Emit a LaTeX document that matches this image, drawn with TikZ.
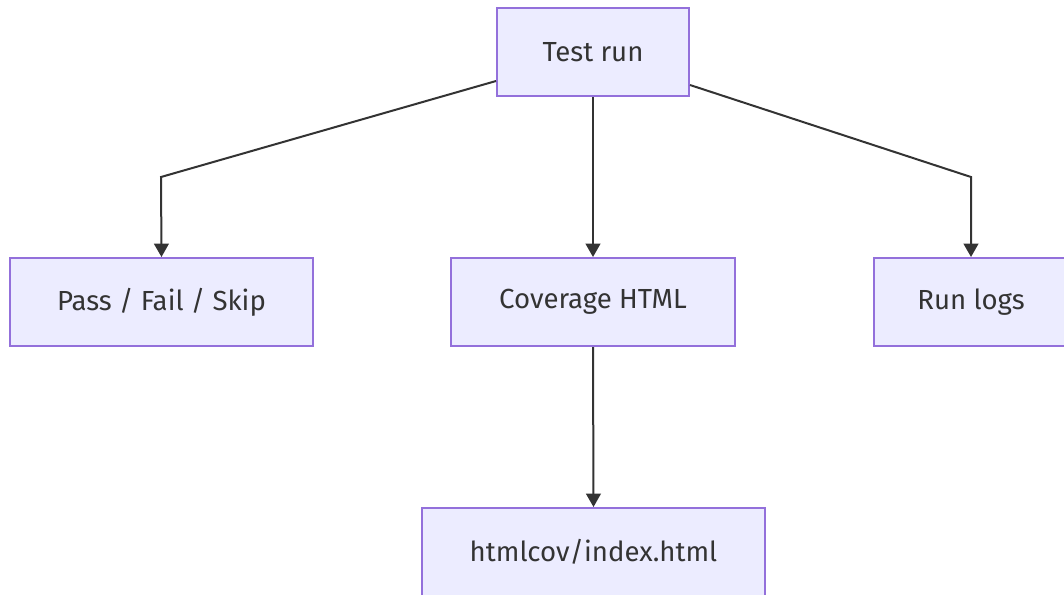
\documentclass[tikz,border=0pt]{standalone}
\usepackage{fontspec}
\setmainfont{Fira Sans}
\usetikzlibrary{arrows.meta,calc}
\definecolor{nodefill}{HTML}{ECECFF}
\definecolor{nodeline}{HTML}{9370DB}
\definecolor{ink}{HTML}{333333}
\tikzset{
  box/.style={draw=nodeline, fill=nodefill, line width=1.5pt, text=ink, font=\fontsize{20.7}{24}\selectfont, inner sep=0pt, anchor=center},
  conn/.style={draw=ink, line width=1.5pt, -{Triangle[length=10pt,width=11pt]}}
}
\begin{document}
\begin{tikzpicture}[x=0.75pt,y=-0.75pt]
\useasboundingbox (0,0) rectangle (1064,594);
\clip (0,0) rectangle (1064,594);
\node[box, minimum width=192*0.75pt, minimum height=88*0.75pt] (tr) at (593,52) {Test run};
\node[box, minimum width=303*0.75pt, minimum height=88*0.75pt] (pf) at (161.5,302) {Pass / Fail / Skip};
\node[box, minimum width=284*0.75pt, minimum height=88*0.75pt] (cov) at (593,302) {Coverage HTML};
\node[box, minimum width=194*0.75pt, minimum height=88*0.75pt] (rl) at (971,302) {Run logs};
\node[box, minimum width=343*0.75pt, minimum height=88*0.75pt] (hc) at (593.5,552) {htmlcov/index.html};
\coordinate (lb) at (161,177);
\coordinate (rb) at (971,177);
\draw[conn] ($(tr.south west)+(0,-16)$) -- (lb) -- (pf.north);
\draw[conn] (tr.south) -- (cov.north);
\draw[conn] ($(tr.south east)+(0,-12)$) -- (rb) -- (rl.north);
\draw[conn] (cov.south) -- (hc.north);
\end{tikzpicture}
\end{document}
